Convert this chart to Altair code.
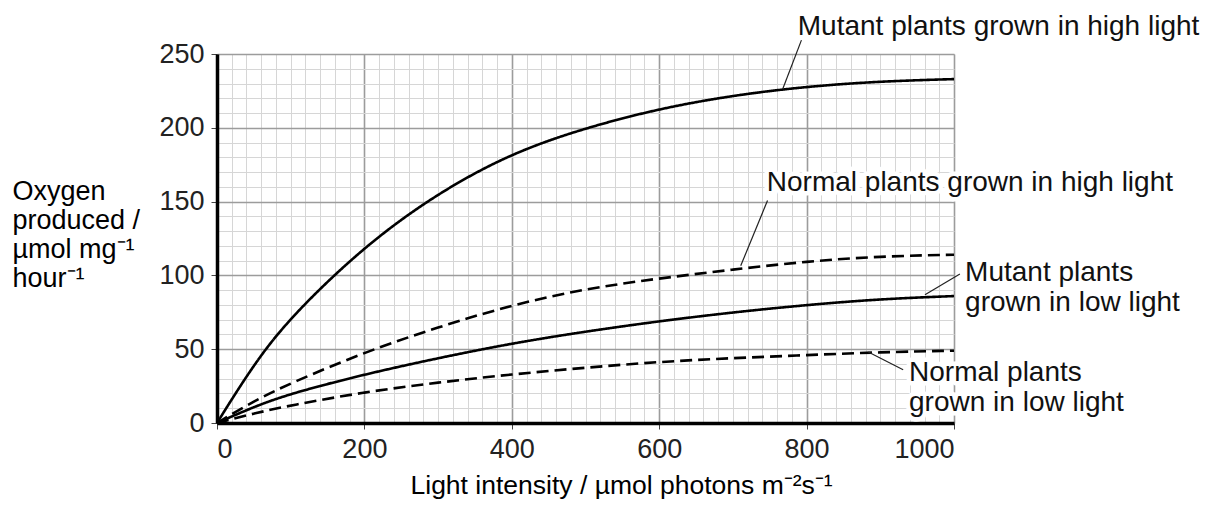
import altair as alt
import pandas as pd

# ---- data ----
light = [0, 50, 100, 200, 300, 400, 500, 600, 700, 800, 900, 1000]
mutant_high = [0, 40, 72, 120, 156, 183, 200, 213, 222, 228, 231.5, 233]
normal_high = [0, 15, 27, 48, 65, 80, 91, 98, 104, 109.5, 113, 114]
mutant_low = [0, 11, 20, 33, 44, 54, 62, 69, 75, 80, 84, 86]
normal_low = [0, 6.5, 12, 21, 27.5, 33, 37.5, 41.5, 44, 46, 48, 49]

series_names = ["Mutant high light", "Normal high light", "Mutant low light", "Normal low light"]
series_values = [mutant_high, normal_high, mutant_low, normal_low]
series_style = ["solid", "dashed", "solid", "dashed"]

# annotation labels (data units)
ann_text = ["Mutant plants grown in high light", "Normal plants grown in high light",
            "Mutant plants", "grown in low light", "Normal plants", "grown in low light"]
ann_x = [788, 746, 1015, 1015, 939, 939]
ann_y = [263, 157, 96, 75.6, 28.7, 7.9]

# leader lines (data units)
lead_x = [793, 747, 1008, 931]
lead_y = [259.4, 150.8, 101, 36.1]
lead_x2 = [767.6, 710.6, 960.6, 883.7]
lead_y2 = [226.3, 106.5, 86.9, 48.1]

x_grid_values = list(range(0, 1001, 20))
y_grid_values = list(range(0, 251, 10))

rows = []
for name, vals, style in zip(series_names, series_values, series_style):
    for x, y in zip(light, vals):
        rows.append({"series": name, "x": x, "y": y, "style": style})
df = pd.DataFrame(rows)

ann_df = pd.DataFrame({"text": ann_text, "x": ann_x, "y": ann_y})
lead_df = pd.DataFrame({"x": lead_x, "y": lead_y, "x2": lead_x2, "y2": lead_y2})

FONT = "Liberation Sans"

x_axis = alt.Axis(
    values=x_grid_values, tickCount=len(x_grid_values) * 2, format="d",
    labelExpr="datum.value % 200 === 0 ? datum.label : ''",
    labelOverlap=False,
    labelFontSize=27, labelColor="#222", labelFont=FONT, labelPadding=7,
    tickSize=6, tickColor="#444",
    tickOpacity={"condition": {"test": "datum.value % 200 === 0", "value": 1}, "value": 0},
    grid=True,
    gridColor={"condition": {"test": "datum.value % 200 === 0", "value": "#9c9c9c"}, "value": "#d6d6d6"},
    gridWidth={"condition": {"test": "datum.value % 200 === 0", "value": 1.6}, "value": 1},
    domainColor="#000", domainWidth=3.5,
    title="Light intensity / µmol photons m⁻²s⁻¹",
    titleFont=FONT, titleFontSize=26.5, titleFontWeight="normal", titleColor="#000",
    titleAlign="left", titleBaseline="alphabetic", titleX=193, titleY=70, titleAnchor="start",
)

y_axis = alt.Axis(
    values=y_grid_values, tickCount=len(y_grid_values) * 2, format="d",
    labelExpr="datum.value % 50 === 0 ? datum.label : ''",
    labelOverlap=False,
    labelFontSize=27, labelColor="#222", labelFont=FONT, labelPadding=7,
    tickSize=6, tickColor="#444",
    tickOpacity={"condition": {"test": "datum.value % 50 === 0", "value": 1}, "value": 0},
    grid=True,
    gridColor={"condition": {"test": "datum.value % 50 === 0", "value": "#9c9c9c"}, "value": "#d6d6d6"},
    gridWidth={"condition": {"test": "datum.value % 50 === 0", "value": 1.6}, "value": 1},
    domainColor="#000", domainWidth=3.5,
    title=["Oxygen", "produced /", "µmol mg⁻¹", "hour⁻¹"],
    titleFont=FONT, titleFontSize=27, titleFontWeight="normal", titleColor="#000",
    titleAngle=0, titleAlign="left", titleBaseline="alphabetic",
    titleX=-205, titleY=145, titleLineHeight=29, titleAnchor="start",
)

xs = alt.Scale(domain=[0, 1000], nice=False, zero=False)
ys = alt.Scale(domain=[0, 250], nice=False, zero=False)

lines = alt.Chart(df).mark_line(color="#000", strokeWidth=2.6, interpolate="basis").encode(
    x=alt.X("x:Q", scale=xs, axis=x_axis),
    y=alt.Y("y:Q", scale=ys, axis=y_axis),
    detail="series:N",
    strokeDash=alt.StrokeDash("style:N", scale=alt.Scale(domain=["solid", "dashed"], range=[[1, 0], [12, 6]]), legend=None),
)

leaders = alt.Chart(lead_df).mark_rule(color="#222", strokeWidth=1.2).encode(
    x=alt.X("x:Q", scale=xs), y=alt.Y("y:Q", scale=ys),
    x2="x2:Q", y2="y2:Q",
)

halo = alt.Chart(ann_df).mark_text(
    align="left", baseline="alphabetic", font=FONT, fontSize=28,
    stroke="white", strokeWidth=9, strokeJoin="round", fill="white",
).encode(x=alt.X("x:Q", scale=xs), y=alt.Y("y:Q", scale=ys), text="text:N")

labels = alt.Chart(ann_df).mark_text(
    align="left", baseline="alphabetic", font=FONT, fontSize=28, color="#111",
).encode(x=alt.X("x:Q", scale=xs), y=alt.Y("y:Q", scale=ys), text="text:N")

chart = alt.layer(lines, leaders, halo, labels).properties(
    width=737, height=369,
    autosize=alt.AutoSizeParams(type="none"),
    padding={"left": 209, "top": 46, "right": 262, "bottom": 80},
).configure_view(stroke=None).configure(font=FONT)

chart.save("out.html", embed_options={"renderer": "svg", "actions": False})
